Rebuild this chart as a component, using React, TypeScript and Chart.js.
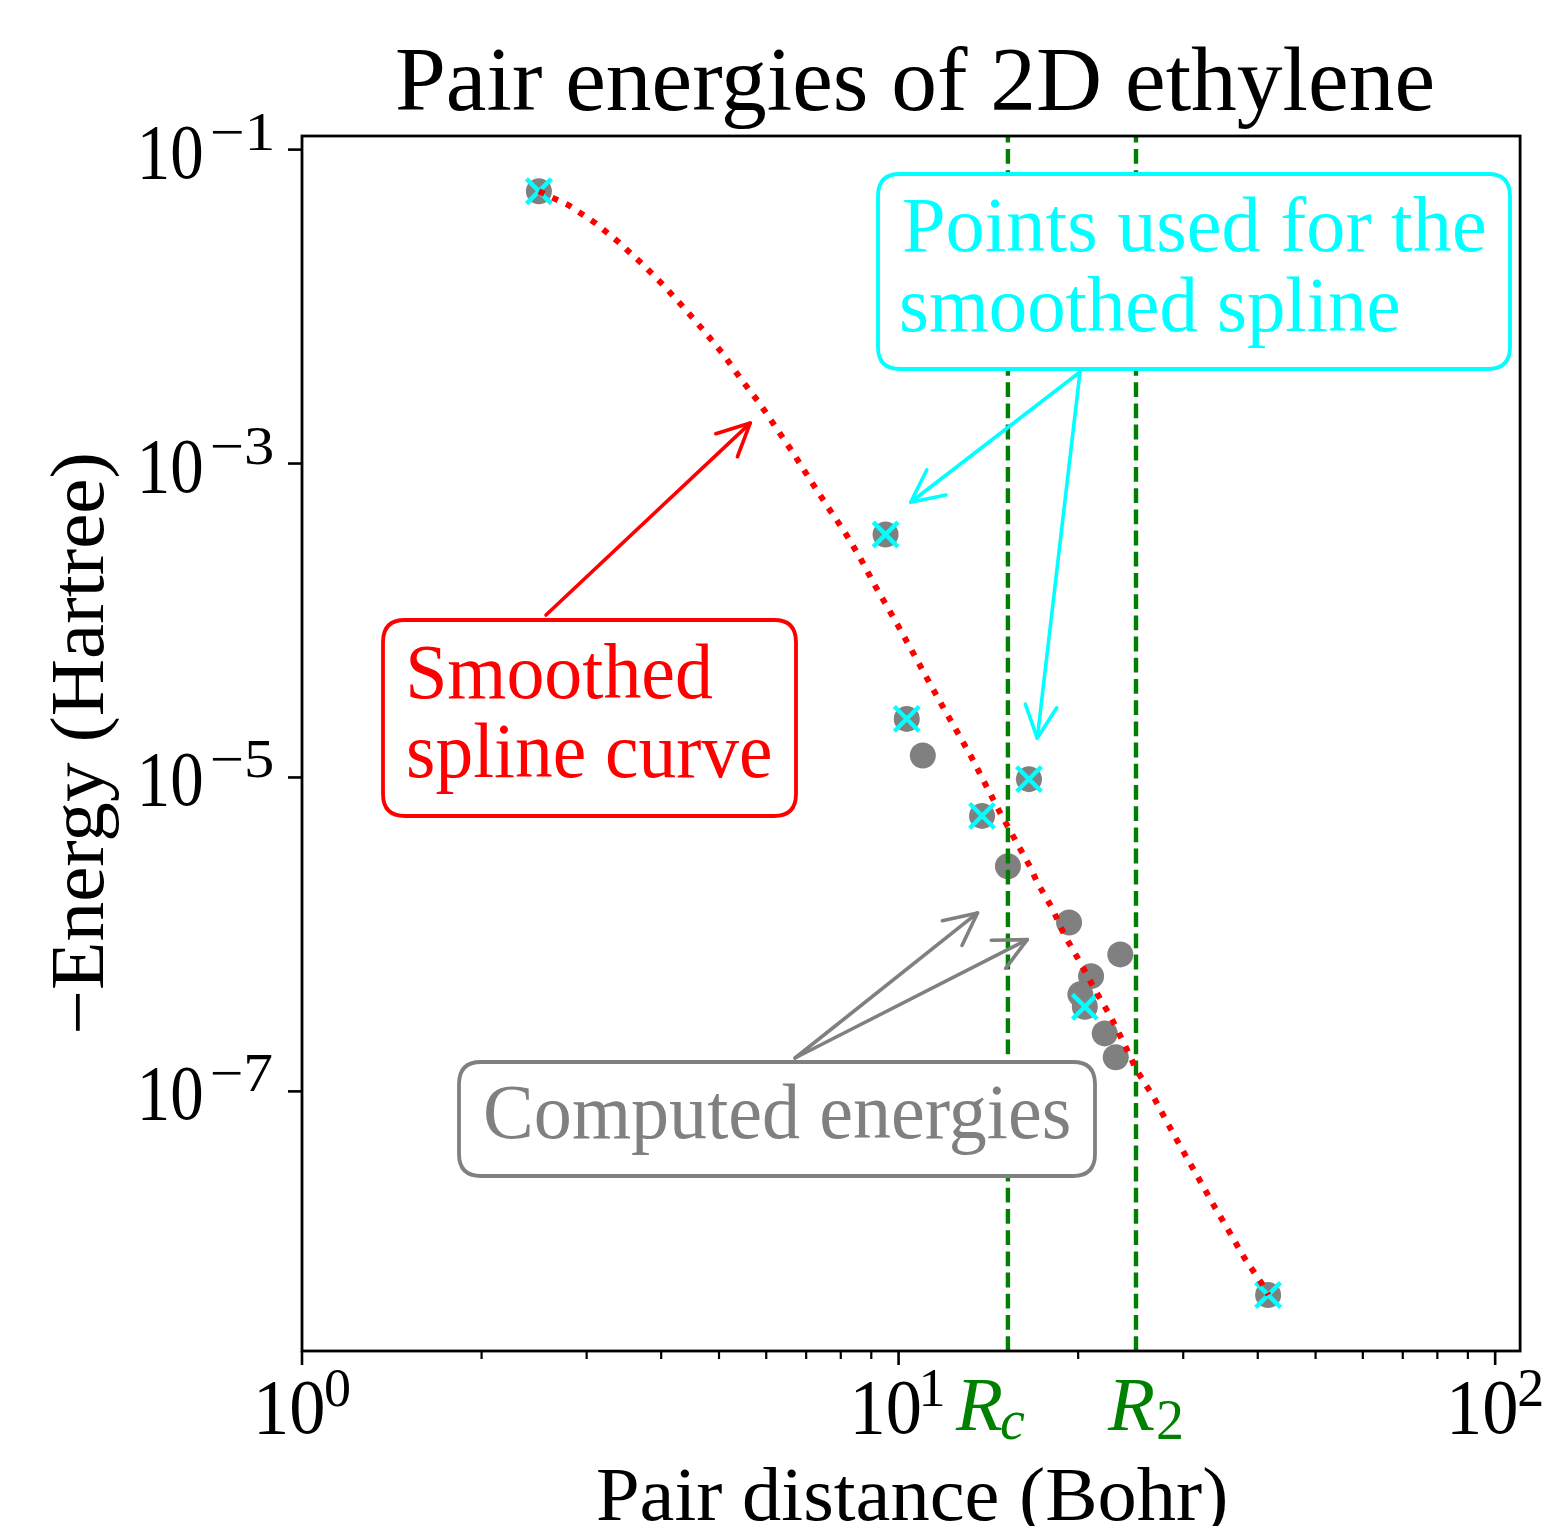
import React, { useEffect, useRef } from "react";
import { Chart, registerables } from "chart.js";

Chart.register(...registerables);

const W = 1542;
const H = 1526;
const SERIF = '"Liberation Serif", "Times New Roman", serif';

// ---- data ----
const pairDistance = [2.495, 9.51, 10.32, 10.98, 13.8, 16.54, 15.25, 19.31, 23.53, 21.02, 20.17, 20.52, 22.16, 23.12, 41.63];
const pairEnergy = [5.43e-2, 3.53e-4, 2.36e-5, 1.38e-5, 5.69e-6, 9.75e-6, 2.72e-6, 1.19e-6, 7.46e-7, 5.42e-7, 4.15e-7, 3.46e-7, 2.34e-7, 1.65e-7, 5.04e-9];

const splinePointDistance = [2.495, 9.51, 10.32, 13.8, 16.54, 20.52, 41.63];
const splinePointEnergy = [5.43e-2, 3.53e-4, 2.36e-5, 5.69e-6, 9.75e-6, 3.46e-7, 5.04e-9];

const curveDistance = [2.495, 2.8, 3.107, 3.395, 3.708, 4.036, 4.358, 4.724, 5.083, 5.446, 5.861, 6.256, 6.678, 7.131, 7.613, 8.126, 8.61, 9.12, 9.97, 10.56, 11.18, 11.85, 12.55, 13.3, 14.03, 14.81, 15.69, 16.62, 17.07, 18.09, 19.01, 20.15, 21.26, 22.61, 23.86, 25.07, 26.77, 28.36, 30.05, 31.83, 33.72, 35.86, 37.99, 40.56, 41.67];
const curveEnergy = [5.43e-2, 4.42e-2, 3.39e-2, 2.569e-2, 1.887e-2, 1.367e-2, 9.9e-3, 6.96e-3, 4.97e-3, 3.44e-3, 2.39e-3, 1.654e-3, 1.146e-3, 7.72e-4, 5.27e-4, 3.65e-4, 2.53e-4, 1.68e-4, 9.33e-5, 6.28e-5, 4.23e-5, 2.84e-5, 1.94e-5, 1.31e-5, 8.81e-6, 5.93e-6, 3.99e-6, 2.69e-6, 2.15e-6, 1.47e-6, 9.75e-7, 6.65e-7, 4.54e-7, 3.05e-7, 2.03e-7, 1.36e-7, 9.18e-8, 6.09e-8, 4.1e-8, 2.8e-8, 1.89e-8, 1.27e-8, 8.68e-9, 6.02e-9, 5.05e-9];

const R_C = 15.25;
const R_2 = 25.0;

const X_MIN = 1;
const X_MAX = 110.1;
const Y_MIN = 2.218e-9;
const Y_MAX = 0.1221;

const xMajorTicks = [1, 10, 100];
const xMajorExponents = ["0", "1", "2"];
const xMinorTicks = [2, 3, 4, 5, 6, 7, 8, 9, 20, 30, 40, 50, 60, 70, 80, 90];
const yMajorTicks = [1e-1, 1e-3, 1e-5, 1e-7];
const yMajorExponents = ["\u22121", "\u22123", "\u22125", "\u22127"];

const titleText = "Pair energies of 2D ethylene";
const xLabelText = "Pair distance (Bohr)";
const yLabelText = "\u2212Energy (Hartree)";
const cyanLines = ["Points used for the", "smoothed spline"];
const redLines = ["Smoothed", "spline curve"];
const grayLines = ["Computed energies"];

// arrow targets (data coordinates)
const redArrowTips = [[5.64, 1.81e-3]];
const cyanArrowTips = [[10.48, 5.67e-4], [17.08, 1.78e-5]];
const grayArrowTips = [[13.56, 1.37e-6], [16.43, 9.27e-7]];

const CYAN = "#00ffff";
const RED = "#ff0000";
const GRAY = "#808080";
const GREEN = "#008000";

function inkText(ctx: CanvasRenderingContext2D, text: string, font: string, color: string, left: number, right: number, baseline: number) {
  ctx.save();
  ctx.font = font;
  ctx.fillStyle = color;
  ctx.textAlign = "left";
  ctx.textBaseline = "alphabetic";
  const m = ctx.measureText(text);
  const inkW = m.actualBoundingBoxLeft + m.actualBoundingBoxRight;
  const sx = (right - left) / inkW;
  ctx.translate(left, baseline);
  ctx.scale(sx, 1);
  ctx.fillText(text, m.actualBoundingBoxLeft, 0);
  ctx.restore();
}

function naturalText(ctx: CanvasRenderingContext2D, text: string, font: string, color: string, left: number, baseline: number) {
  ctx.save();
  ctx.font = font;
  ctx.fillStyle = color;
  ctx.textAlign = "left";
  ctx.textBaseline = "alphabetic";
  const m = ctx.measureText(text);
  ctx.fillText(text, left + m.actualBoundingBoxLeft, baseline);
  const w = m.actualBoundingBoxLeft + m.actualBoundingBoxRight;
  ctx.restore();
  return w;
}

function roundBox(ctx: CanvasRenderingContext2D, l: number, t: number, r: number, b: number, color: string) {
  const rad = 22;
  ctx.save();
  ctx.beginPath();
  ctx.moveTo(l + rad, t);
  ctx.lineTo(r - rad, t);
  ctx.quadraticCurveTo(r, t, r, t + rad);
  ctx.lineTo(r, b - rad);
  ctx.quadraticCurveTo(r, b, r - rad, b);
  ctx.lineTo(l + rad, b);
  ctx.quadraticCurveTo(l, b, l, b - rad);
  ctx.lineTo(l, t + rad);
  ctx.quadraticCurveTo(l, t, l + rad, t);
  ctx.closePath();
  ctx.fillStyle = "#ffffff";
  ctx.fill();
  ctx.lineWidth = 3.8;
  ctx.strokeStyle = color;
  ctx.stroke();
  ctx.restore();
}

function arrow(ctx: CanvasRenderingContext2D, x0: number, y0: number, x1: number, y1: number, color: string) {
  const ang = Math.atan2(y0 - y1, x0 - x1);
  const len = 36;
  const half = (26 * Math.PI) / 180;
  ctx.save();
  ctx.strokeStyle = color;
  ctx.lineWidth = 3.6;
  ctx.lineCap = "round";
  ctx.lineJoin = "round";
  ctx.beginPath();
  ctx.moveTo(x0, y0);
  ctx.lineTo(x1, y1);
  ctx.stroke();
  ctx.beginPath();
  ctx.moveTo(x1 + len * Math.cos(ang + half), y1 + len * Math.sin(ang + half));
  ctx.lineTo(x1, y1);
  ctx.lineTo(x1 + len * Math.cos(ang - half), y1 + len * Math.sin(ang - half));
  ctx.stroke();
  ctx.restore();
}

const decorPlugin = {
  id: "decor",
  afterDraw(chart: any) {
    const ctx: CanvasRenderingContext2D = chart.ctx;
    const area = chart.chartArea;
    const xs = chart.scales.x;
    const ys = chart.scales.y;

    // spines
    ctx.save();
    ctx.strokeStyle = "#000";
    ctx.lineWidth = 2.8;
    ctx.strokeRect(area.left, area.top, area.right - area.left, area.bottom - area.top);

    // x ticks
    ctx.lineWidth = 2.6;
    for (const v of xMajorTicks) {
      const px = xs.getPixelForValue(v);
      ctx.beginPath();
      ctx.moveTo(px, area.bottom);
      ctx.lineTo(px, area.bottom + 14);
      ctx.stroke();
    }
    ctx.lineWidth = 2.2;
    for (const v of xMinorTicks) {
      const px = xs.getPixelForValue(v);
      ctx.beginPath();
      ctx.moveTo(px, area.bottom);
      ctx.lineTo(px, area.bottom + 8);
      ctx.stroke();
    }
    // y ticks
    ctx.lineWidth = 2.6;
    for (const v of yMajorTicks) {
      const py = ys.getPixelForValue(v);
      ctx.beginPath();
      ctx.moveTo(area.left, py);
      ctx.lineTo(area.left - 14, py);
      ctx.stroke();
    }
    ctx.restore();

    const big = `78px ${SERIF}`;
    const sup = `54px ${SERIF}`;

    // x tick labels
    xMajorTicks.forEach((v, i) => {
      const px = xs.getPixelForValue(v);
      inkText(ctx, "10", big, "#000", px - 43.5, px + 21.5, 1433);
      naturalText(ctx, xMajorExponents[i], sup, "#000", px + 24, 1406);
    });
    // y tick labels
    yMajorTicks.forEach((v, i) => {
      const py = ys.getPixelForValue(v);
      inkText(ctx, "10", big, "#000", area.left - 160, area.left - 100, py + 28);
      inkText(ctx, yMajorExponents[i], sup, "#000", area.left - 90, area.left - 30, py);
    });

    // R_c and R_2 labels
    const rFont = `italic 77px ${SERIF}`;
    const subItalic = `italic 56px ${SERIF}`;
    const subRoman = `56px ${SERIF}`;
    const rcX = xs.getPixelForValue(R_C);
    const r2X = xs.getPixelForValue(R_2);
    const wR1 = naturalText(ctx, "R", rFont, GREEN, rcX - 53, 1430);
    naturalText(ctx, "c", subItalic, GREEN, rcX - 53 + wR1 - 1, 1439);
    const wR2 = naturalText(ctx, "R", rFont, GREEN, r2X - 29, 1430);
    naturalText(ctx, "2", subRoman, GREEN, r2X - 29 + wR2 + 4, 1439);

    // title and axis labels
    inkText(ctx, titleText, `90px ${SERIF}`, "#000", 397, 1432, 110);
    inkText(ctx, xLabelText, `76px ${SERIF}`, "#000", 598, 1225, 1520);
    ctx.save();
    const cy = (area.top + area.bottom) / 2;
    ctx.translate(103, cy);
    ctx.rotate(-Math.PI / 2);
    inkText(ctx, yLabelText, `76px ${SERIF}`, "#000", -288, 288, 0);
    ctx.restore();

    // annotation boxes
    const boxFont = `78px ${SERIF}`;
    roundBox(ctx, 878, 174, 1510, 369, CYAN);
    inkText(ctx, cyanLines[0], boxFont, CYAN, 904, 1484, 251);
    inkText(ctx, cyanLines[1], boxFont, CYAN, 902, 1398, 331);

    roundBox(ctx, 383, 620, 796, 816, RED);
    inkText(ctx, redLines[0], boxFont, RED, 410, 713, 698);
    inkText(ctx, redLines[1], boxFont, RED, 409, 770, 777);

    roundBox(ctx, 459, 1062, 1095, 1176, GRAY);
    inkText(ctx, grayLines[0], boxFont, GRAY, 486, 1069, 1138);

    // arrows
    for (const [dx, dy] of redArrowTips) {
      arrow(ctx, 546, 615, xs.getPixelForValue(dx), ys.getPixelForValue(dy), RED);
    }
    for (const [dx, dy] of cyanArrowTips) {
      arrow(ctx, 1080, 372, xs.getPixelForValue(dx), ys.getPixelForValue(dy), CYAN);
    }
    for (const [dx, dy] of grayArrowTips) {
      arrow(ctx, 795, 1058, xs.getPixelForValue(dx), ys.getPixelForValue(dy), GRAY);
    }
  },
};

export default function App() {
  const ref = useRef<HTMLCanvasElement | null>(null);

  useEffect(() => {
    if (!ref.current) return;
    const pts = (xa: number[], ya: number[]) => xa.map((x, i) => ({ x, y: ya[i] }));
    const chart = new Chart(ref.current, {
      type: "scatter",
      data: {
        datasets: [
          {
            type: "line",
            label: "spline",
            data: pts(curveDistance, curveEnergy),
            borderColor: RED,
            borderWidth: 6,
            borderDash: [6, 9],
            borderCapStyle: "butt",
            pointRadius: 0,
            tension: 0,
            fill: false,
            order: 0,
          } as any,
          {
            type: "line",
            label: "Rc",
            data: [{ x: R_C, y: Y_MIN }, { x: R_C, y: Y_MAX }],
            borderColor: GREEN,
            borderWidth: 4.4,
            borderDash: [14.8, 6.4],
            pointRadius: 0,
            fill: false,
            order: 1,
          } as any,
          {
            type: "line",
            label: "R2",
            data: [{ x: R_2, y: Y_MIN }, { x: R_2, y: Y_MAX }],
            borderColor: GREEN,
            borderWidth: 4.4,
            borderDash: [14.8, 6.4],
            pointRadius: 0,
            fill: false,
            order: 1,
          } as any,
          {
            label: "spline points",
            data: pts(splinePointDistance, splinePointEnergy),
            pointStyle: "crossRot",
            pointRadius: 17.5,
            pointBorderWidth: 4.4,
            borderWidth: 4.4,
            borderColor: CYAN,
            pointBorderColor: CYAN,
            backgroundColor: CYAN,
            order: 3,
          } as any,
          {
            label: "computed",
            data: pts(pairDistance, pairEnergy),
            pointStyle: "circle",
            pointRadius: 13,
            borderWidth: 0,
            pointBorderWidth: 0,
            backgroundColor: GRAY,
            pointBackgroundColor: GRAY,
            order: 4,
          } as any,
        ],
      },
      options: {
        responsive: false,
        animation: false,
        events: [],
        layout: { padding: { left: 302, top: 136, right: 14, bottom: H - 1351 } },
        plugins: {
          legend: { display: false },
          tooltip: { enabled: false },
          title: { display: false },
        },
        scales: {
          x: { type: "logarithmic", min: X_MIN, max: X_MAX, display: false },
          y: { type: "logarithmic", min: Y_MIN, max: Y_MAX, display: false },
        },
      } as any,
      plugins: [decorPlugin],
    });
    return () => chart.destroy();
  }, []);

  return (
    <div style={{ position: "absolute", left: 0, top: 0, width: W, height: H, background: "#fff" }}>
      <canvas ref={ref} width={W} height={H} style={{ display: "block", width: W, height: H }} />
    </div>
  );
}
